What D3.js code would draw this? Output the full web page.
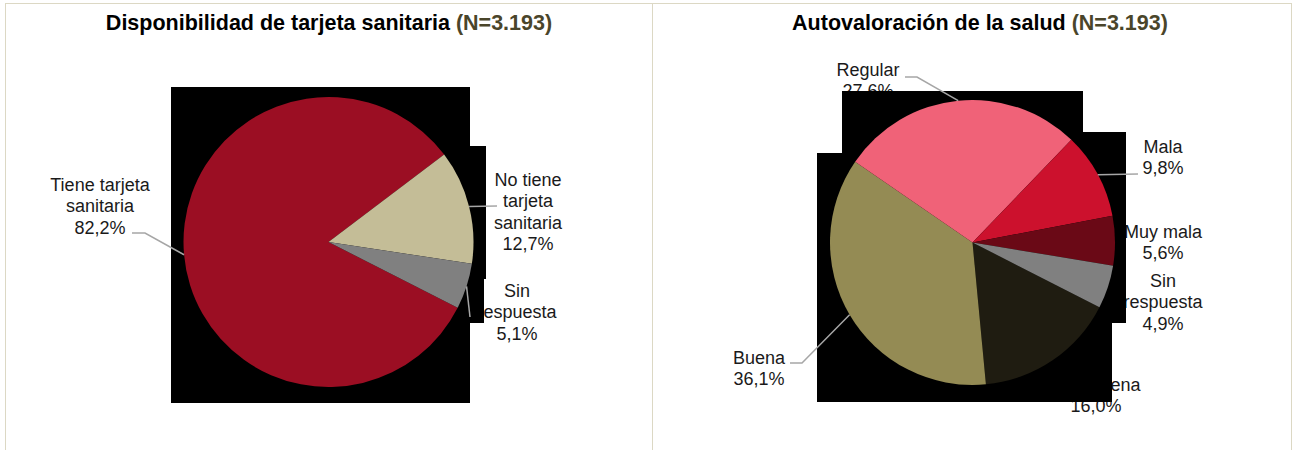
<!DOCTYPE html>
<html>
<head>
<meta charset="utf-8">
<script src="https://cdn.jsdelivr.net/npm/d3@7"></script>
<style>
  body { margin: 0; background: #fff; }
  svg { display: block; font-family: "Liberation Sans", Arial, sans-serif; }
</style>
</head>
<body>
<script>
// DATA
const sampleLabel = "(N=3.193)";

const cardTitle = "Disponibilidad de tarjeta sanitaria";
const cardCategories = ["Tiene tarjeta\nsanitaria", "No tiene\ntarjeta\nsanitaria", "Sin\nrespuesta"];
const cardValues = [82.2, 12.7, 5.1];
const cardColors = ["#9b0e23", "#c4bd97", "#808080"];

const healthTitle = "Autovaloración de la salud";
const healthCategories = ["Muy buena", "Buena", "Regular", "Mala", "Muy mala", "Sin\nrespuesta"];
const healthValues = [16.0, 36.1, 27.6, 9.8, 5.6, 4.9];
const healthColors = ["#1f1c11", "#948b54", "#f06278", "#cc112d", "#6a0916", "#808080"];

// CONST DECLARATIONS
const width = 1295;
const height = 450;
const lineHeight = 21.3;
const startDeg = 117;

const charts = [
  {
    title: cardTitle, categories: cardCategories, values: cardValues, colors: cardColors,
    titleX: 329, cx: 328.5, cy: 242, r: 145,
    labels: [
      { x: 100, y: 191, lead: [[145, 233], [132, 233]] },
      { x: 528, y: 186, lead: [[497, 206]] },
      { x: 517, y: 297, lead: [[470, 317]] },
    ],
    // black boxes sitting behind the pie
    masks: [[171, 87, 470, 403], [470, 146, 486, 279], [470, 279, 484, 323]],
  },
  {
    title: healthTitle, categories: healthCategories, values: healthValues, colors: healthColors,
    titleX: 980, cx: 972.5, cy: 242.5, r: 142.5,
    labels: [
      { x: 1096, y: 391, lead: null },
      { x: 759, y: 364, lead: [[802, 363], [790, 363]] },
      { x: 868, y: 76, lead: [[917, 77], [905, 77]] },
      { x: 1163, y: 153, lead: [[1138, 174]] },
      { x: 1163, y: 238, lead: null },
      { x: 1163, y: 287, lead: null },
    ],
    masks: [[817, 153, 1112, 402], [842, 91, 1083, 153], [1083, 132, 1126, 323]],
  },
];

// HELPER METHODS
const rad = (deg) => (deg * Math.PI) / 180;
const formatPct = (v) => v.toFixed(1).replace(".", ",") + "%";

// SVG
const svg = d3.select("body").append("svg").attr("width", width).attr("height", height);

// PANEL BORDERS
const border = "#dcd8c4";
svg.append("line").attr("x1", 5).attr("x2", 1292).attr("y1", 3.5).attr("y2", 3.5).attr("stroke", border);
[5.5, 652.5, 1291.5].forEach((x) => {
  svg.append("line").attr("x1", x).attr("x2", x).attr("y1", 3).attr("y2", height).attr("stroke", border);
});

charts.forEach((chart) => {
  const g = svg.append("g");

  // TITLE
  const title = g.append("text")
    .attr("x", chart.titleX)
    .attr("y", 30)
    .attr("text-anchor", "middle")
    .attr("font-size", 21.5)
    .attr("font-weight", "bold")
    .attr("fill", "#000");
  title.append("tspan").text(chart.title + " ");
  title.append("tspan").attr("fill", "#4a452a").text(sampleLabel);

  const pie = d3.pie()
    .sort(null)
    .startAngle(rad(startDeg))
    .endAngle(rad(startDeg + 360));
  const arcs = pie(chart.values);

  const arc = d3.arc().innerRadius(0).outerRadius(chart.r);
  const edge = d3.arc().innerRadius(chart.r).outerRadius(chart.r);

  // LABELS
  arcs.forEach((d, i) => {
    const lay = chart.labels[i];
    const lines = chart.categories[i].split("\n").concat(formatPct(d.data));
    const t = g.append("text")
      .attr("text-anchor", "middle")
      .attr("font-size", 18)
      .attr("fill", "#1a1a1a");
    lines.forEach((line, k) => {
      t.append("tspan").attr("x", lay.x).attr("y", lay.y + k * lineHeight).text(line);
    });
  });

  // MASKS
  g.selectAll("rect.mask")
    .data(chart.masks)
    .enter()
    .append("rect")
    .attr("class", "mask")
    .attr("x", (m) => m[0])
    .attr("y", (m) => m[1])
    .attr("width", (m) => m[2] - m[0])
    .attr("height", (m) => m[3] - m[1])
    .attr("fill", "#000");

  // SLICES
  const pieG = g.append("g").attr("transform", `translate(${chart.cx},${chart.cy})`);
  pieG.selectAll("path")
    .data(arcs)
    .enter()
    .append("path")
    .attr("d", arc)
    .attr("fill", (d, i) => chart.colors[i]);

  // LEADER LINES
  arcs.forEach((d, i) => {
    const lay = chart.labels[i];
    if (!lay.lead) return;
    const [px, py] = edge.centroid(d);
    const pts = [[chart.cx + px, chart.cy + py]].concat(lay.lead);
    g.append("path")
      .attr("d", d3.line()(pts))
      .attr("fill", "none")
      .attr("stroke", "#a6a6a6")
      .attr("stroke-width", 1.5);
  });
});
</script>
</body>
</html>
